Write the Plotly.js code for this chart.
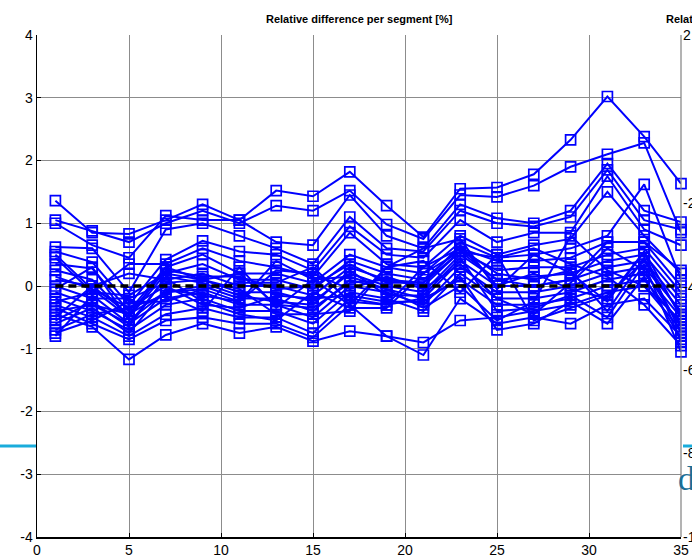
<!DOCTYPE html>
<html>
<head>
<meta charset="utf-8">
<script src="https://cdn.plot.ly/plotly-3.0.1.min.js"></script>
<style>html,body{margin:0;padding:0;background:#fff;}#chart{width:692px;height:558px;}</style>
</head>
<body>
<div id="chart"></div>
<script>
// Segment index (x) positions
const segments = [1,3,5,7,9,11,13,15,17,19,21,23,25,27,29,31,33,35];

// Relative difference per segment [%], one array per run
const run01 = [1.36, 0.85, 0.83, 1.05, 1.30, 1.05, 1.52, 1.43, 1.82, 1.28, 0.78, 1.55, 1.57, 1.78, 2.33, 3.02, 2.38, 1.63];
const run02 = [1.05, 0.88, 0.70, 1.00, 1.20, 1.00, 1.28, 1.20, 1.52, 0.98, 0.75, 1.45, 1.42, 1.60, 1.90, 2.10, 2.28, 0.85];
const run03 = [1.00, 0.65, 0.45, 1.12, 1.05, 1.05, 0.70, 0.65, 1.45, 0.80, 0.60, 1.30, 1.08, 1.00, 1.20, 1.95, 1.20, 1.02];
const run04 = [0.62, 0.60, -0.10, 0.90, 1.00, 0.80, 0.60, 0.35, 1.10, 0.60, 0.55, 1.20, 1.00, 0.95, 1.10, 1.85, 1.05, 0.90];
const run05 = [0.55, 0.38, -0.30, 0.42, 0.72, 0.55, 0.50, 0.25, 0.95, 0.50, 0.45, 1.05, 0.70, 0.85, 0.85, 1.75, 0.90, 0.65];
const run06 = [0.45, -0.10, 0.35, 0.35, 0.60, 0.40, 0.30, 0.15, 0.85, 0.35, 0.30, 0.80, 0.50, 0.65, 0.75, 1.50, 0.80, 0.20];
const run07 = [0.35, 0.28, -0.40, 0.30, 0.50, 0.20, 0.20, 0.05, 0.50, 0.30, 0.20, 0.70, 0.45, 0.50, 0.60, 0.80, 1.62, 0.10];
const run08 = [0.25, 0.10, -0.50, 0.20, 0.35, 0.10, 0.10, -0.05, 0.40, 0.20, 0.10, 0.60, 0.40, 0.40, 0.45, 0.70, 0.70, 0.00];
const run09 = [0.10, 0.00, 0.20, 0.10, 0.20, 0.00, 0.00, -0.15, 0.30, 0.10, 0.00, 0.55, 0.25, 0.30, 0.30, 0.50, 0.60, -0.10];
const run10 = [0.00, -0.20, -0.20, 0.05, 0.10, -0.10, -0.10, -0.25, 0.20, 0.00, -0.10, 0.50, 0.10, 0.15, 0.20, 0.40, 0.50, -0.20];
const run11 = [-0.05, 0.30, -0.55, -0.10, 0.00, -0.20, -0.20, -0.40, 0.10, -0.05, -0.20, 0.40, 0.00, 0.00, 0.10, 0.30, 0.40, -0.30];
const run12 = [-0.10, -0.30, -0.60, -0.20, -0.10, -0.30, -0.30, -0.50, 0.00, -0.10, -0.30, 0.30, -0.10, -0.10, 0.00, 0.20, 0.30, -0.40];
const run13 = [-0.20, -0.40, -0.70, -0.30, -0.20, -0.40, -0.40, -0.60, -0.10, -0.20, -0.40, 0.20, -0.20, -0.20, -0.10, 0.10, 0.20, -0.50];
const run14 = [-0.30, -0.50, -0.80, -0.45, -0.35, -0.50, -0.50, -0.75, -0.20, -0.30, -0.20, 0.10, -0.30, -0.30, -0.20, 0.00, 0.10, -0.60];
const run15 = [-0.35, -0.60, -0.85, -0.55, -0.50, -0.60, -0.60, -0.82, -0.30, -0.80, -0.90, -0.55, -0.50, -0.40, -0.30, -0.10, 0.00, -0.70];
const run16 = [-0.45, -0.65, -1.17, -0.78, -0.60, -0.75, -0.65, -0.88, -0.72, -0.80, -1.10, -0.20, -0.60, -0.50, -0.60, -0.30, -0.20, -0.80];
const run17 = [-0.50, 0.00, -0.45, 0.25, 0.15, 0.15, -0.05, 0.00, 0.35, 0.05, 0.05, 0.65, 0.00, 0.20, -0.05, -0.20, 0.55, -0.90];
const run18 = [-0.55, -0.25, -0.65, 0.15, 0.05, -0.15, -0.25, -0.30, 0.25, -0.15, -0.15, 0.45, -0.40, -0.35, -0.15, -0.50, 0.35, -1.05];
const run19 = [-0.60, -0.35, -0.75, -0.05, -0.15, -0.25, 0.25, 0.20, -0.05, 0.15, -0.05, 0.35, -0.20, -0.45, 0.05, 0.60, 0.25, -0.65];
const run20 = [-0.70, -0.45, -0.35, 0.00, -0.30, -0.35, -0.15, -0.20, -0.15, -0.25, -0.25, 0.15, -0.70, -0.60, -0.25, -0.60, 0.15, -0.85];
const run21 = [-0.75, -0.55, -0.25, -0.25, -0.05, 0.05, 0.05, 0.30, -0.25, -0.30, 0.30, 0.60, 0.20, 0.10, 0.25, -0.40, 0.45, -0.75];
const run22 = [-0.80, -0.15, -0.60, 0.12, -0.25, -0.45, -0.55, -0.10, -0.35, -0.35, 0.20, 0.55, 0.45, 0.60, 0.35, 0.15, -0.30, -0.95];
const run23 = [0.15, -0.05, -0.35, -0.15, -0.40, 0.30, -0.35, 0.10, 0.15, -0.05, -0.35, 0.00, -0.55, -0.25, 0.80, 0.25, 0.00, -0.55];
const run24 = [-0.25, -0.10, -0.15, 0.20, 0.10, -0.05, -0.45, -0.45, -0.40, 0.30, 0.40, -0.10, 0.50, -0.55, -0.35, -0.15, 0.40, -0.45];
const run25 = [0.50, -0.05, -0.50, 0.30, 0.10, 0.20, -0.30, -0.35, 0.05, 0.10, 0.05, 0.55, 0.10, 0.00, 0.10, 0.70, 0.70, 0.25];
const run26 = [-0.40, -0.30, -0.45, -0.10, -0.05, -0.25, 0.40, 0.10, -0.30, 0.30, 0.60, 0.75, -0.05, 0.50, 0.20, -0.25, 0.55, -0.50];

// Zero reference line
const refX = [1, 35];
const refY = [0, 0];

// Axis ticks
const xTicks = [0,5,10,15,20,25,30,35];
const yTicks = [-4,-3,-2,-1,0,1,2,3,4];
// Tick labels of the neighbouring (clipped) chart at the right edge
const sideLabels = ['2','-2','-4','-6','-8','-10'];
const sideLabelPx = [35, 203, 287, 370, 453, 537];

const runs = [run01,run02,run03,run04,run05,run06,run07,run08,run09,run10,run11,run12,run13,
              run14,run15,run16,run17,run18,run19,run20,run21,run22,run23,run24,run25,run26];

const traces = runs.map(r => ({
  x: segments, y: r, type: 'scatter', mode: 'lines+markers',
  line: {color: '#0000FF', width: 2},
  marker: {symbol: 'square-open', size: 10, color: '#0000FF', line: {width: 1.7, color: '#0000FF'}},
  hoverinfo: 'skip', showlegend: false, cliponaxis: false
}));
traces.push({
  x: refX, y: refY, type: 'scatter', mode: 'lines',
  line: {color: '#000000', width: 3.5, dash: '8px,5px'}, showlegend: false, hoverinfo: 'skip',
  cliponaxis: false
});

const L = 37, R = 681, T = 35, B = 537;
const px2x = p => (p - L) / (R - L);
const px2y = p => (B - p) / (B - T);

const annotations = [{
  text: '<b>Relative difference per segment [%]</b>', xref: 'paper', yref: 'paper',
  x: 0.5, y: px2y(19), xanchor: 'center', yanchor: 'middle', showarrow: false,
  font: {family: 'Liberation Sans, Arial, sans-serif', size: 11, color: '#000'}
}, {
  text: '<b>Relative difference</b>', xref: 'paper', yref: 'paper',
  x: px2x(664), y: px2y(19), xanchor: 'left', yanchor: 'middle', showarrow: false,
  font: {family: 'Liberation Sans, Arial, sans-serif', size: 11, color: '#000'}
}, {
  text: 'd', xref: 'paper', yref: 'paper',
  x: px2x(676), y: px2y(478), xanchor: 'left', yanchor: 'middle', showarrow: false,
  font: {family: 'Liberation Serif, DejaVu Serif, serif', size: 34, color: '#1B6E96'}
}];
sideLabels.forEach((t, i) => annotations.push({
  text: t, xref: 'paper', yref: 'paper', x: px2x(681), y: px2y(sideLabelPx[i]),
  xanchor: 'left', yanchor: 'middle', showarrow: false,
  font: {family: 'Liberation Sans, Arial, sans-serif', size: 14, color: '#000'}
}));

const shapes = [
  {type: 'line', xref: 'paper', yref: 'paper', x0: px2x(0), x1: px2x(36), y0: px2y(446), y1: px2y(446),
   line: {color: '#1AACDB', width: 3}, layer: 'below'},
  {type: 'line', xref: 'paper', yref: 'paper', x0: px2x(683), x1: px2x(692), y0: px2y(446), y1: px2y(446),
   line: {color: '#1AACDB', width: 3}},
  {type: 'line', xref: 'paper', yref: 'paper', x0: 1, x1: 1, y0: 0, y1: 1,
   line: {color: '#808080', width: 1.2}}
];

const layout = {
  width: 692, height: 558,
  margin: {l: L, r: 692 - R, t: T, b: 558 - B, pad: 0},
  paper_bgcolor: '#ffffff', plot_bgcolor: '#ffffff',
  showlegend: false,
  font: {family: 'Liberation Sans, Arial, sans-serif', size: 14, color: '#000'},
  xaxis: {
    range: [0, 35], tickvals: xTicks, ticktext: xTicks.map(String),
    showgrid: true, gridcolor: '#8c8c8c', gridwidth: 1,
    zeroline: false, showline: true, linecolor: '#000', linewidth: 1.5,
    ticks: 'inside', ticklen: 4, tickcolor: '#000', tickwidth: 1,
    tickfont: {size: 14, family: 'Liberation Sans, Arial, sans-serif'}, fixedrange: true
  },
  yaxis: {
    range: [-4, 4], tickvals: yTicks, ticktext: yTicks.map(String),
    showgrid: true, gridcolor: '#8c8c8c', gridwidth: 1,
    zeroline: false, showline: true, linecolor: '#000', linewidth: 1.5,
    ticks: 'inside', ticklen: 4, tickcolor: '#000', tickwidth: 1,
    tickfont: {size: 14, family: 'Liberation Sans, Arial, sans-serif'}, fixedrange: true
  },
  annotations: annotations,
  shapes: shapes
};

Plotly.newPlot('chart', traces, layout, {displayModeBar: false, staticPlot: true});
</script>
</body>
</html>
